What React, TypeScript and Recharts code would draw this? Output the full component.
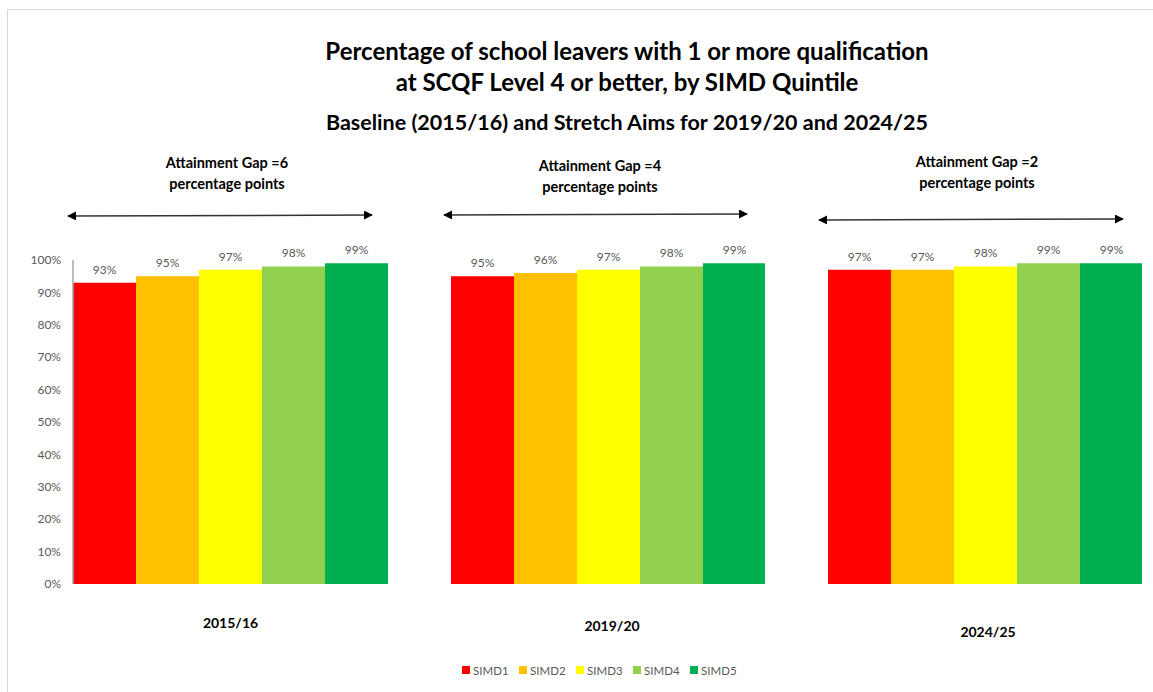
import React from 'react';
import { BarChart, Bar, XAxis, YAxis, LabelList } from 'recharts';

const categories = ['2015/16', '2019/20', '2024/25'];
const simd1 = [93, 95, 97];
const simd2 = [95, 96, 97];
const simd3 = [97, 97, 98];
const simd4 = [98, 98, 99];
const simd5 = [99, 99, 99];
const seriesNames = ['SIMD1', 'SIMD2', 'SIMD3', 'SIMD4', 'SIMD5'];
const seriesColors = ['#FF0000', '#FFC000', '#FFFF00', '#92D050', '#00B050'];
const gapPoints = [6, 4, 2];
const yTicks = [0, 10, 20, 30, 40, 50, 60, 70, 80, 90, 100];

const seriesValues = [simd1, simd2, simd3, simd4, simd5];

const FONT = 'Lato, "Open Sans", sans-serif';
const GREY = '#595959';

// one small chart per period, like the original three side-by-side charts
const panels = [
  { left: 0, width: 400, marginRight: 12, showAxis: true, labelDy: 44, labelDx: 0 },
  { left: 451, width: 314, marginRight: 0, showAxis: false, labelDy: 47, labelDx: 4 },
  { left: 828, width: 314, marginRight: 0, showAxis: false, labelDy: 53, labelDx: 3 },
];

const annotations = [
  { cx: 227, y1: 168, y2: 189, ax1: 68, ax2: 372, ay1: 216, ay2: 215 },
  { cx: 600, y1: 171, y2: 192, ax1: 444, ax2: 747, ay1: 215, ay2: 214 },
  { cx: 977, y1: 167, y2: 188, ax1: 819, ax2: 1123, ay1: 220, ay2: 219 },
];

const rowFor = (i: number) => {
  const row: any = { name: categories[i] };
  seriesNames.forEach((s, k) => {
    row[s] = seriesValues[k][i];
  });
  return row;
};

const makeTick = (dy: number, dx: number) => (props: any) => (
  <text
    x={props.x + dx}
    y={props.y + dy}
    textAnchor="middle"
    fontFamily={FONT}
    fontWeight={700}
    fontSize={14}
    fill="#000"
  >
    {props.payload.value}
  </text>
);

export default function App() {
  return (
    <div style={{ position: 'absolute', left: 0, top: 0, width: 1153, height: 692, background: '#fff', fontFamily: FONT, overflow: 'hidden' }}>
      <div style={{ position: 'absolute', left: 7, top: 9, width: 1160, height: 700, borderTop: '1.5px solid #d9d9d9', borderLeft: '1.5px solid #d9d9d9' }} />

      <div style={{ position: 'absolute', left: 127, width: 1000, top: 35, textAlign: 'center', fontWeight: 700, fontSize: 24, lineHeight: '31px', color: '#000' }}>
        Percentage of school leavers with 1 or more qualification
        <br />
        at SCQF Level 4 or better, by SIMD Quintile
      </div>
      <div style={{ position: 'absolute', left: 127, width: 1000, top: 109, textAlign: 'center', fontWeight: 700, fontSize: 21.5, lineHeight: '26px', color: '#000' }}>
        Baseline (2015/16) and Stretch Aims for 2019/20 and 2024/25
      </div>

      <svg width={1153} height={692} style={{ position: 'absolute', left: 0, top: 0, pointerEvents: 'none' }}>
        <defs>
          <marker id="arrowEnd" viewBox="0 0 10 10" refX="9" refY="5" markerWidth="9" markerHeight="9" markerUnits="userSpaceOnUse" orient="auto">
            <path d="M0,0 L10,5 L0,10 z" fill="#000" />
          </marker>
          <marker id="arrowStart" viewBox="0 0 10 10" refX="1" refY="5" markerWidth="9" markerHeight="9" markerUnits="userSpaceOnUse" orient="auto">
            <path d="M10,0 L0,5 L10,10 z" fill="#000" />
          </marker>
        </defs>
        {annotations.map((a, i) => (
          <g key={i}>
            <text x={a.cx} y={a.y1} textAnchor="middle" fontFamily={FONT} fontWeight={700} fontSize={14.5} fill="#000">
              {`Attainment Gap =${gapPoints[i]}`}
            </text>
            <text x={a.cx} y={a.y2} textAnchor="middle" fontFamily={FONT} fontWeight={700} fontSize={14.5} fill="#000">
              percentage points
            </text>
            <line x1={a.ax1} y1={a.ay1} x2={a.ax2} y2={a.ay2} stroke="#333" strokeWidth={1.5} markerStart="url(#arrowStart)" markerEnd="url(#arrowEnd)" />
          </g>
        ))}
      </svg>

      {panels.map((p, i) => (
        <div key={i} style={{ position: 'absolute', left: p.left, top: 220 }}>
          <BarChart
            width={p.width}
            height={420}
            data={[rowFor(i)]}
            margin={{ top: 40, right: p.marginRight, bottom: 0, left: 0 }}
            barCategoryGap={0}
            barGap={0}
          >
            <XAxis
              dataKey="name"
              axisLine={false}
              tickLine={false}
              tickSize={0}
              tickMargin={0}
              height={56}
              tick={makeTick(p.labelDy, p.labelDx)}
            />
            <YAxis
              hide={!p.showAxis}
              width={p.showAxis ? 73 : 0}
              domain={[0, 100]}
              ticks={yTicks}
              tickFormatter={(v: number) => `${v}%`}
              axisLine={{ stroke: '#a6a6a6', strokeWidth: 1.5 }}
              tickLine={false}
              tickSize={0}
              tickMargin={12}
              tick={{ fill: GREY, fontSize: 12, fontFamily: FONT }}
            />
            {seriesNames.map((s, k) => (
              <Bar key={s} dataKey={s} fill={seriesColors[k]} isAnimationActive={false}>
                <LabelList
                  dataKey={s}
                  position="top"
                  offset={9}
                  formatter={(v: any) => `${v}%`}
                  style={{ fill: GREY, fontSize: 12, fontFamily: FONT }}
                />
              </Bar>
            ))}
          </BarChart>
        </div>
      ))}

      <div style={{ position: 'absolute', left: 462, top: 662, display: 'flex', alignItems: 'center', fontSize: 11.5, color: GREY }}>
        {seriesNames.map((s, k) => (
          <div key={s} style={{ display: 'flex', alignItems: 'center', width: 57, height: 16 }}>
            <span style={{ display: 'inline-block', width: 8, height: 8, background: seriesColors[k], marginRight: 3 }} />
            <span>{s}</span>
          </div>
        ))}
      </div>
    </div>
  );
}
